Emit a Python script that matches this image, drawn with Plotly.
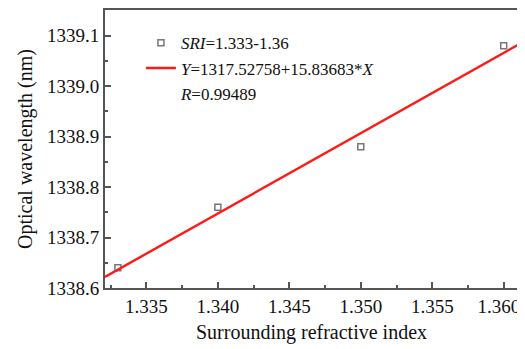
import plotly.graph_objects as go

sri = [1.333, 1.340, 1.350, 1.360]
wavelength = [1338.64, 1338.76, 1338.88, 1339.08]
fit_x = [1.3321, 1.3610]
fit_y = [1338.622, 1339.082]
x_ticks = [1.335, 1.340, 1.345, 1.350, 1.355, 1.360]
x_ticklabels = ["1.335", "1.340", "1.345", "1.350", "1.355", "1.360\u00a0\u00a0"]
y_ticks = [1338.6, 1338.7, 1338.8, 1338.9, 1339.0, 1339.1]
y_ticklabels = ["1338.6", "1338.7", "1338.8", "1338.9", "1339.0", "1339.1"]

FONT = "Liberation Serif, Times New Roman, serif"
AX = "#555555"

fig = go.Figure()
fig.add_trace(go.Scatter(
    x=sri, y=wavelength, mode="markers",
    marker=dict(symbol="square-open", size=6, color="#777777", line=dict(width=1.5)),
    name="<i>SRI</i>=1.333-1.36",
))
fig.add_trace(go.Scatter(
    x=fit_x, y=fit_y, mode="lines",
    line=dict(color="#ff1a1a", width=2.4),
    name="<i>Y</i>=1317.52758+15.83683*<i>X</i>",
))
fig.add_trace(go.Scatter(
    x=[None], y=[None], mode="markers",
    marker=dict(size=1, color="rgba(0,0,0,0)"),
    name="<i>R</i>=0.99489",
))

axis_common = dict(
    showgrid=False, zeroline=False, showline=True, linecolor=AX, linewidth=2,
    mirror=True, ticks="inside", ticklen=6, tickwidth=1.5, tickcolor=AX,
    tickfont=dict(family=FONT, size=19, color="#111111"), automargin=False,
    ticklabeloverflow="allow",
)

# page body has an 8px default margin, so the figure is sized to fit inside the window
fig.update_layout(
    width=517, height=341,
    margin=dict(l=97, r=7, t=2, b=61),
    paper_bgcolor="white", plot_bgcolor="white",
    font=dict(family=FONT, color="#111111"),
    showlegend=True,
    legend=dict(
        x=0.087, y=0.945, xanchor="left", yanchor="top",
        bgcolor="rgba(0,0,0,0)", font=dict(family=FONT, size=17, color="#111111"),
        tracegroupgap=0, itemwidth=30,
    ),
    xaxis=dict(
        **axis_common, range=[1.3321, 1.3610],
        tickvals=x_ticks, ticktext=x_ticklabels,
        minor=dict(ticks="inside", ticklen=3, tickcolor=AX, dtick=0.0025, tick0=1.3325),
        title=dict(text="Surrounding refractive index", font=dict(family=FONT, size=20), standoff=9),
    ),
    yaxis=dict(
        **axis_common, range=[1338.6, 1339.151],
        tickvals=y_ticks, ticktext=y_ticklabels,
        minor=dict(ticks="inside", ticklen=3, tickcolor=AX, dtick=0.05, tick0=1338.6),
        title=dict(text="Optical wavelength (nm)", font=dict(family=FONT, size=20), standoff=9),
    ),
)

fig.write_html("out.html")
